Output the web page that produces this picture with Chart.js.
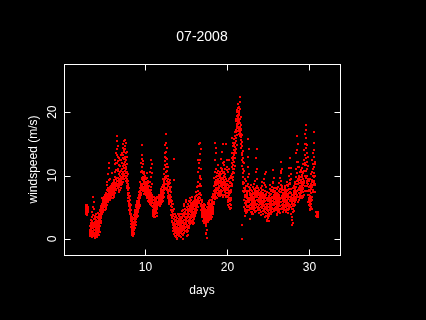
<!DOCTYPE html>
<html><head><meta charset="utf-8">
<script src="https://cdn.jsdelivr.net/npm/chart.js@4/dist/chart.umd.min.js"></script>
<style>html,body{margin:0;padding:0;background:#000;}canvas{display:block;}</style>
</head><body>
<canvas id="c" width="426" height="320"></canvas>
<script>
const chartTitle = "07-2008";
const xLabel = "days";
const yLabel = "windspeed (m/s)";
const xTicks = [10, 20, 30];
const yTicks = [0, 10, 20];
const xRange = [0.07, 33.73];
const yRange = [-2.52, 27.6];
const samplesPerDay = 72;     // 20-minute readings
const jul02Start = 51;        // first reading on day 2 is slot 51
const jul02 = [4.2,5.0,4.6,5.3,4.4,3.9,4.8,5.1,4.3,4.7,5.2,4.0,4.5,4.9,3.8,5.4,4.1,4.6,5.0,4.3,4.8];
const jul03 = [null,null,null,null,null,null,null,null,null,null,null,null,
 null,null,null,1.0,0.6,1.4,0.8,2.0,1.2,0.5,1.8,2.6,
 1.1,0.4,1.6,2.2,0.9,3.0,1.5,2.4,0.7,1.9,0.3,1.3,
 2.8,4.2,1.3,3.4,0.6,2.1,5.1,1.7,0.9,2.5,3.8,1.2,
 6.7,2.0,0.4,4.8,1.5,3.1,5.8,0.8,2.3,1.0,3.6,0.5,
 2.7,1.4,0.2,3.3,1.9,0.7,2.4,4.0,1.1,2.9,0.6,1.7];
const jul04 = [2.1,0.8,3.0,1.5,0.4,2.6,1.2,3.5,0.9,2.2,1.7,0.3,
 1.0,2.8,0.6,3.3,2.0,1.4,4.1,2.4,0.7,1.9,3.6,1.3,
 2.7,1.6,3.2,2.2,4.0,1.1,2.9,3.7,2.0,4.4,2.5,3.4,
 3.0,4.5,2.6,3.8,5.2,3.3,4.1,2.9,4.8,3.6,5.0,4.3,
 4.6,3.9,5.6,4.4,5.1,6.5,4.0,5.3,4.8,5.9,4.2,5.5,
 5.0,6.1,4.7,5.6,6.4,5.2,4.6,5.8,6.0,5.3,6.6,5.1];
const jul05 = [5.2,6.0,4.6,5.5,6.8,5.0,6.2,5.7,7.0,5.3,6.5,5.8,
 4.8,6.1,7.3,5.6,6.9,5.1,6.4,7.8,5.9,6.6,9.0,6.0,
 6.3,7.1,5.4,8.5,6.7,5.9,7.5,10.2,6.2,7.0,6.6,8.1,
 12.0,7.4,6.3,11.2,7.8,6.8,9.3,7.1,6.5,8.2,7.6,6.9,
 7.5,6.2,8.0,6.9,7.3,9.5,6.6,7.7,8.4,7.0,6.4,7.9,
 7.2,8.3,6.8,7.6,10.4,7.1,8.0,6.9,7.4,8.7,7.8,7.3];
const jul06 = [7.2,8.0,6.5,7.6,8.8,6.9,7.4,8.3,6.7,9.0,7.8,7.1,
 8.5,6.8,9.3,7.5,8.1,10.5,7.9,8.6,9.8,7.3,11.8,8.9,
 8.2,12.5,7.7,9.6,13.5,8.4,10.9,7.9,12.0,8.8,9.4,14.2,
 16.3,8.6,13.2,15.5,9.1,12.0,8.3,11.0,14.6,9.7,13.0,8.0,
 9.2,12.3,8.4,10.8,7.7,11.6,9.0,8.6,12.8,7.4,9.5,10.2,
 8.2,10.0,7.8,11.5,8.8,9.4,12.4,8.5,10.6,9.1,13.2,8.9];
const jul07 = [8.5,10.8,9.6,8.0,12.4,9.2,8.7,11.0,9.8,13.6,8.9,10.2,
 9.4,12.0,8.6,14.3,10.5,9.0,12.8,11.5,9.7,15.0,10.1,13.2,
 11.8,9.5,14.0,12.6,10.3,15.4,11.2,13.8,9.9,12.2,14.6,10.7,
 13.0,15.6,11.6,10.0,14.2,12.8,9.6,13.5,11.0,15.2,12.4,10.4,
 11.4,9.2,12.9,8.8,10.6,13.7,9.5,8.4,11.9,9.9,8.1,10.3,
 8.3,7.0,9.1,6.4,7.8,8.6,6.0,7.3,5.5,8.0,6.8,5.9];
const jul08 = [6.5,5.2,7.2,4.6,5.8,6.8,4.2,5.5,6.1,3.9,5.0,4.4,
 4.8,3.5,5.4,2.8,4.0,3.2,4.6,2.4,3.7,1.9,3.0,2.2,
 1.6,2.9,0.9,2.5,1.3,3.4,0.6,2.0,1.1,0.4,1.8,2.7,
 1.4,0.7,2.3,3.1,1.0,2.6,1.7,3.8,0.8,2.1,3.3,1.5,
 2.4,3.9,2.9,4.5,1.8,3.6,2.6,4.2,3.0,5.0,2.2,3.4,
 4.1,3.2,5.3,2.7,4.6,3.8,5.8,3.5,4.3,6.0,3.9,4.9];
const jul09 = [4.8,3.9,5.6,4.3,6.0,5.1,3.6,5.8,4.6,6.5,5.3,4.2,
 6.2,5.0,7.0,5.7,6.6,4.9,7.4,6.0,5.4,6.8,5.2,7.2,
 7.6,6.4,8.0,6.8,9.0,7.3,8.5,6.9,10.5,7.8,8.7,7.1,
 12.0,8.2,14.9,9.4,13.2,8.0,11.3,9.6,12.6,8.4,10.8,7.9,
 9.3,11.8,8.6,10.4,7.5,9.8,12.3,8.2,7.1,10.2,8.8,9.1,
 7.7,9.4,8.0,10.6,8.5,7.8,9.6,7.2,8.9,10.0,7.5,8.3];
const jul10 = [8.3,7.2,9.0,7.7,8.6,6.9,9.4,8.0,7.4,8.8,10.4,8.2,
 7.0,9.6,7.8,6.4,8.5,7.3,6.8,7.9,9.2,7.5,8.9,6.7,
 7.2,6.0,8.1,6.6,7.0,6.3,8.4,7.6,6.2,7.8,6.9,5.8,
 6.5,7.4,5.6,9.0,6.8,5.9,10.6,7.1,6.3,8.2,5.4,7.7,
 12.5,6.0,11.2,7.3,9.8,5.5,11.8,6.7,8.7,5.8,10.4,6.4,
 7.0,5.2,6.1,4.2,5.7,6.6,3.6,5.0,4.6,6.2,3.9,5.4];
const jul11 = [4.5,5.6,3.5,6.2,4.9,3.8,5.3,6.6,4.2,5.8,3.4,5.0,
 6.0,4.6,5.5,3.9,6.3,5.1,4.4,5.9,6.5,5.2,4.8,6.1,
 5.4,4.3,6.7,5.0,3.7,5.7,4.7,6.4,4.1,5.3,null,null,
 null,null,null,null,5.5,6.4,5.9,6.8,5.3,6.2,5.7,6.6,
 6.0,5.4,6.9,6.3,5.8,6.5,7.0,6.1,5.6,6.7,5.2,6.4,
 6.2,7.0,5.5,7.6,6.5,5.9,7.3,6.8,6.0,7.9,6.3,7.1];
const jul12 = [6.8,8.2,5.9,7.3,6.5,7.8,6.0,7.1,8.5,6.4,7.6,6.9,
 7.4,9.5,7.1,8.3,10.2,6.6,8.9,7.7,11.0,8.0,9.1,7.3,
 12.3,8.0,13.5,9.4,14.8,8.6,11.6,9.8,13.0,7.9,10.5,12.8,
 16.6,9.6,15.2,11.3,13.8,9.9,10.8,14.3,8.6,12.6,7.8,11.9,
 9.2,8.1,10.0,7.4,8.9,6.8,9.4,7.2,11.4,6.5,8.4,7.7,
 5.9,7.5,6.9,8.6,6.2,9.0,7.0,5.5,8.2,6.6,7.9,6.3];
const jul13 = [7.5,8.9,6.4,9.3,7.0,5.8,8.2,6.6,5.2,7.4,4.5,6.1,
 3.8,5.5,2.9,4.6,3.3,6.0,5.0,2.7,4.2,3.5,5.6,2.4,
 2.2,3.6,1.8,4.4,2.6,3.9,1.3,3.1,9.3,2.0,4.8,1.5,
 12.6,2.6,0.8,3.2,1.6,4.0,2.4,0.5,3.5,1.9,2.8,1.1,
 2.1,0.3,3.0,1.7,2.8,0.9,2.3,3.7,1.4,0.6,2.5,1.2,
 0.2,3.3,1.9,0.0,2.6,1.0,3.9,1.6,0.7,2.9,1.3,2.2];
const jul14 = [1.2,2.5,0.6,3.1,1.8,0.4,2.2,3.6,1.0,2.8,0.7,1.5,
 3.4,2.0,0.9,2.7,1.3,3.9,0.5,2.3,1.7,3.2,1.1,2.6,
 0.3,1.9,3.0,1.4,2.4,4.0,0.8,2.9,1.6,3.5,2.1,4.4,
 1.2,3.3,0.0,2.5,0.6,3.8,1.8,4.6,2.7,1.5,3.6,5.2,
 2.2,4.1,1.4,3.0,5.5,2.0,3.7,1.0,4.3,2.6,3.4,1.7,
 3.9,2.3,4.8,1.3,3.1,5.8,2.8,4.5,1.9,3.5,6.2,2.5];
const jul15 = [2.8,1.5,3.9,0.4,2.2,4.6,1.1,3.3,5.0,2.0,0.6,3.7,
 4.3,1.8,2.9,5.5,3.5,1.3,4.8,2.5,3.9,6.0,2.1,4.4,
 3.0,5.2,1.7,4.0,6.5,3.4,2.4,4.9,5.8,3.1,4.5,2.7,
 5.3,3.8,4.2,6.2,3.3,5.0,4.6,2.9,5.6,4.1,3.6,5.1,
 4.4,2.6,5.7,3.5,4.9,6.6,3.0,4.7,5.4,2.3,4.0,5.9,
 3.7,5.0,2.8,4.3,6.0,3.4,5.5,4.1,2.5,4.8,3.2,5.2];
const jul16 = [3.9,5.2,4.5,6.3,3.6,5.7,4.8,6.6,4.1,5.4,6.0,4.7,
 5.1,6.8,4.4,5.9,7.4,5.0,8.2,6.1,4.6,5.6,7.0,5.3,
 6.9,5.4,9.0,6.2,12.5,5.8,7.6,10.5,6.4,5.1,8.3,6.7,
 12.0,6.0,8.3,15.0,7.1,11.2,5.7,13.4,9.6,6.5,15.1,8.6,
 12.4,7.2,10.0,6.5,14.2,8.4,5.5,11.0,7.0,4.6,9.4,6.2,
 5.2,3.8,4.9,5.8,4.2,3.5,5.0,4.4,6.1,3.9,5.4,4.7];
const jul17 = [4.5,3.6,5.3,4.0,2.9,4.8,3.3,5.6,4.2,3.0,4.9,3.7,
 5.1,4.4,2.5,3.9,4.7,3.2,5.4,2.8,4.1,3.5,4.6,3.0,
 2.2,4.1,1.0,3.5,2.6,0.8,3.8,2.0,4.4,1.5,3.1,0.1,
 3.8,4.6,2.8,5.0,3.4,4.3,5.7,3.1,4.0,4.9,2.7,3.6,
 5.5,4.2,3.3,4.8,5.9,3.9,4.5,5.2,3.0,4.4,6.0,3.7,
 4.9,3.5,5.6,4.1,3.2,5.0,4.6,6.2,3.8,4.3,5.3,3.4];
const jul18 = [3.6,5.0,4.4,6.2,3.2,5.5,4.7,6.7,4.0,5.8,3.4,6.1,
 5.2,4.5,6.8,3.9,5.6,4.8,6.4,5.1,7.1,4.3,5.9,6.6,
 7.6,5.6,8.3,6.4,9.6,7.1,5.9,8.7,6.9,7.8,9.0,6.3,
 10.5,12.4,7.3,15.2,9.3,13.6,8.0,11.0,7.4,9.8,14.3,8.5,
 6.7,10.4,7.7,9.0,6.5,8.8,7.3,10.0,8.1,6.9,11.6,7.8,
 9.5,7.8,8.6,9.2,7.1,10.7,8.3,6.8,9.9,7.5,8.9,10.3];
const jul19 = [7.4,9.2,8.0,10.1,6.8,8.8,9.6,7.6,10.5,8.3,7.1,9.9,
 8.6,11.2,7.8,9.4,12.6,8.9,10.3,7.3,9.1,13.8,8.2,10.8,
 7.5,9.7,8.4,11.0,7.0,9.0,10.4,8.1,6.6,9.5,12.0,8.7,
 15.0,9.7,7.7,11.6,8.5,10.0,6.9,9.3,12.2,8.1,10.6,7.4,
 9.0,7.5,11.0,8.4,9.8,7.0,10.2,8.7,6.6,9.5,7.9,8.5,
 8.2,15.0,9.4,7.2,10.9,8.0,12.5,6.8,9.1,7.7,11.4,8.6];
const jul20 = [8.0,6.2,9.1,5.4,7.3,10.5,6.7,8.5,5.8,7.9,12.4,6.4,
 9.4,7.0,5.1,8.2,11.0,6.9,7.6,9.0,5.6,8.8,6.3,4.7,
 7.2,9.6,6.0,8.4,5.3,7.7,10.0,6.5,8.9,4.9,7.4,6.1,
 9.6,12.8,8.4,11.4,15.9,10.2,13.5,8.7,12.0,14.6,9.8,11.0,
 11.6,13.0,10.6,15.2,12.4,9.3,14.0,11.1,13.6,10.4,14.8,12.7,
 13.2,15.8,12.1,14.5,16.3,13.7,11.5,15.1,14.0,16.9,12.8,15.5];
const jul21 = [14.2,16.0,13.5,17.2,15.4,18.6,16.8,19.0,17.5,14.9,18.2,16.4,
 20.3,17.9,19.4,18.8,20.0,18.4,19.6,17.6,18.9,20.6,19.2,17.1,
 21.3,18.1,19.8,17.3,20.8,18.5,16.5,19.5,17.0,20.2,18.7,16.2,
 22.4,19.0,17.7,21.6,18.3,16.8,20.5,17.4,19.3,15.6,18.0,16.6,
 15.0,17.2,14.4,16.1,0.0,15.3,13.6,2.2,14.7,12.4,16.4,13.2,
 11.5,9.8,12.8,8.6,13.9,10.4,7.5,11.0,9.0,12.2,8.0,10.7];
const jul22 = [7.4,10.8,6.2,8.9,5.0,12.0,7.0,4.4,9.5,6.6,3.6,8.1,
 5.7,7.8,4.8,6.9,9.2,5.3,7.5,6.0,8.4,4.1,6.8,5.5,
 7.2,5.0,6.4,4.5,8.3,5.8,7.0,4.2,6.6,9.8,5.2,7.6,
 11.4,15.7,13.0,6.1,8.7,6.3,10.2,5.1,7.6,14.2,6.5,4.6,
 8.2,5.9,7.0,3.2,6.4,8.0,5.4,7.3,4.9,6.1,7.9,5.6,
 6.7,4.7,7.7,5.3,6.2,8.5,4.3,7.1,5.8,6.9,3.9,6.0];
const jul23 = [6.4,5.0,7.6,4.3,6.9,5.5,8.2,4.8,6.1,7.3,5.2,3.9,
 6.7,5.8,7.9,4.6,6.3,5.0,7.1,8.6,5.7,6.5,4.2,7.4,
 5.9,6.8,9.1,5.3,7.7,4.9,6.0,8.0,5.4,7.2,6.6,4.4,
 10.6,5.6,12.8,7.0,14.2,6.2,11.0,8.3,6.6,9.4,5.1,7.5,
 5.6,7.2,4.7,6.0,8.0,5.1,6.9,4.5,7.5,5.8,6.3,7.0,
 6.5,4.9,7.8,5.4,6.1,4.1,7.3,5.7,6.8,4.6,5.9,7.1];
const jul24 = [5.5,7.0,4.6,6.3,8.1,5.1,6.7,4.2,7.4,5.8,6.1,3.8,
 7.8,5.3,6.5,9.0,4.9,7.2,5.6,6.9,8.4,4.4,6.0,7.7,
 5.2,6.6,4.0,7.3,5.7,6.4,8.8,4.7,7.0,5.4,6.2,4.5,
 5.9,9.5,4.3,6.8,10.2,5.1,7.6,4.8,8.5,6.0,3.5,7.1,
 10.6,6.4,5.0,8.2,4.1,6.9,3.6,5.5,7.4,4.6,6.2,5.3,
 3.0,5.1,2.8,4.8,6.0,3.9,5.6,3.3,4.4,6.5,3.7,5.0];
const jul25 = [3.4,5.6,4.1,6.8,2.9,5.0,7.3,4.5,6.1,3.7,5.4,7.9,
 4.8,6.4,3.9,5.9,8.5,5.2,6.9,4.3,7.5,5.7,4.0,6.2,
 5.0,7.1,4.6,6.3,5.5,7.8,4.2,6.7,5.3,6.0,8.2,4.9,
 9.0,6.0,10.9,7.8,5.5,8.8,6.5,4.7,7.4,5.8,9.6,6.6,
 6.6,4.4,7.0,5.3,8.0,6.3,4.9,7.6,5.6,6.9,4.6,7.2,
 5.9,7.4,4.5,6.6,5.1,8.1,6.2,4.8,7.0,5.5,6.4,3.8];
const jul26 = [6.0,4.5,7.3,5.2,6.6,3.9,7.9,5.7,4.8,6.9,5.4,8.2,
 4.2,6.3,7.1,5.0,6.7,4.6,7.6,5.9,8.8,6.1,4.4,7.0,
 5.5,6.8,4.1,7.4,5.2,9.6,6.3,4.7,7.9,5.8,6.5,10.4,
 7.4,10.8,12.2,8.5,6.4,9.2,5.8,7.7,11.0,4.9,6.8,8.3,
 6.5,5.3,8.0,4.7,7.2,6.0,5.1,7.8,6.2,4.3,6.9,5.6,
 7.1,5.4,6.3,4.8,7.7,5.9,6.6,4.5,7.3,5.0,8.4,6.1];
const jul27 = [5.8,7.4,4.6,6.5,8.1,5.3,7.0,4.2,6.2,7.8,5.0,6.8,
 4.4,7.3,5.6,8.5,6.0,4.8,7.6,5.2,6.6,9.0,5.9,7.1,
 4.5,6.9,5.4,8.3,6.3,4.1,7.7,5.7,6.4,8.7,5.1,7.2,
 6.7,10.0,5.5,7.9,4.8,11.2,6.1,8.6,5.3,7.4,9.3,6.0,
 12.7,8.8,6.4,11.2,7.2,5.1,9.4,6.7,4.0,10.3,7.9,5.6,
 3.4,6.1,2.2,5.5,4.7,7.0,3.0,5.8,4.3,6.5,2.6,5.2];
const jul28 = [5.6,7.0,4.8,6.3,8.0,5.2,7.5,6.0,4.4,6.8,8.4,5.5,
 7.2,6.1,8.7,5.8,7.9,6.5,9.0,7.1,5.4,8.2,6.7,7.6,
 6.4,11.0,8.2,13.5,7.3,9.8,6.2,12.1,8.6,7.0,10.4,9.2,
 16.2,10.4,14.0,7.6,12.2,9.2,6.7,15.0,8.6,5.9,11.3,7.8,
 9.4,6.6,8.1,10.0,7.3,9.6,6.2,8.8,11.4,7.0,9.8,8.3,
 6.9,10.6,7.7,8.9,6.5,9.3,7.4,10.9,8.0,6.8,9.0,7.5];
const jul29 = [8.0,9.3,7.2,10.5,6.5,8.6,11.2,7.7,9.8,6.8,10.1,8.4,
 7.4,9.0,11.8,8.1,6.6,10.4,7.9,9.5,8.5,7.0,10.8,8.8,
 12.5,8.8,14.0,10.8,9.2,13.2,7.6,11.6,9.9,15.0,8.3,12.0,
 13.2,16.5,11.6,18.0,15.0,12.8,9.6,17.2,14.4,10.7,16.0,8.9,
 13.5,11.0,9.2,12.2,8.3,14.8,10.0,7.5,11.5,9.4,13.0,8.6,
 6.9,8.7,5.8,7.6,6.3,9.1,7.0,5.4,8.2,6.5,7.8,6.0];
const jul30 = [7.0,5.2,8.4,6.1,4.6,7.6,9.5,5.7,6.8,4.8,8.0,6.4,
 5.5,7.3,10.2,6.0,8.6,5.0,7.9,9.0,6.6,4.7,8.3,6.2,
 10.6,8.2,12.5,9.3,7.4,11.0,8.5,13.6,7.7,10.0,9.0,11.8,
 14.0,10.4,16.8,9.1,13.0,8.9,11.4,15.2,9.8,7.4,12.2,8.5,
 10.0,11.8,8.6,null,null,null,null,null,null,null,null,null,
 null,4.3,3.6,4.1,3.4,3.9,4.2,3.7,4.0,3.5,4.3,3.8];
const jul31 = [3.7,4.2,3.4,3.9,3.5,4.1,3.6];

const days = [2,3,4,5,6,7,8,9,10,11,12,13,14,15,16,17,18,19,20,21,22,23,24,25,26,27,28,29,30,31];
const dayValues = [jul02,jul03,jul04,jul05,jul06,jul07,jul08,jul09,jul10,jul11,jul12,jul13,jul14,jul15,jul16,jul17,jul18,jul19,jul20,jul21,jul22,jul23,jul24,jul25,jul26,jul27,jul28,jul29,jul30,jul31];

const points = [];
days.forEach((d, k) => {
  const start = d === 2 ? jul02Start : 0;
  dayValues[k].forEach((v, i) => {
    if (v !== null) points.push({x: d + (start + i) / samplesPerDay, y: v});
  });
});

// crisp 2x2 red marker
const dot = document.createElement('canvas');
dot.width = 2; dot.height = 2;
const dctx = dot.getContext('2d');
dctx.fillStyle = '#ff0000';
dctx.fillRect(0, 0, 2, 2);

const FONT = 'Liberation Sans';
const TICK_LEN = 6;

const framePlugin = {
  id: 'frame',
  beforeDatasetsDraw(chart) { chart.ctx.imageSmoothingEnabled = false; },
  afterDatasetsDraw(chart) {
    const {ctx, chartArea: a, scales: {x, y}} = chart;
    const L = Math.round(a.left), R = Math.round(a.right), T = Math.round(a.top), B = Math.round(a.bottom);
    ctx.save();
    ctx.strokeStyle = '#ffffff';
    ctx.lineWidth = 1;
    ctx.strokeRect(L + 0.5, T + 0.5, R - L, B - T);
    ctx.beginPath();
    x.ticks.forEach(t => {
      const px = Math.round(x.getPixelForValue(t.value)) + 0.5;
      ctx.moveTo(px, B + 0.5); ctx.lineTo(px, B + 0.5 - TICK_LEN);
      ctx.moveTo(px, T + 0.5); ctx.lineTo(px, T + 0.5 + TICK_LEN);
    });
    y.ticks.forEach(t => {
      const py = Math.round(y.getPixelForValue(t.value)) + 0.5;
      ctx.moveTo(L + 0.5, py); ctx.lineTo(L + 0.5 + TICK_LEN, py);
      ctx.moveTo(R + 0.5, py); ctx.lineTo(R + 0.5 - TICK_LEN, py);
    });
    ctx.stroke();
    ctx.restore();
  }
};

new Chart(document.getElementById('c').getContext('2d'), {
  type: 'scatter',
  data: { datasets: [{ data: points, xAxisID: 'x', yAxisID: 'y', pointStyle: dot, pointRadius: 1, pointHoverRadius: 1,
    backgroundColor: '#ff0000', borderColor: '#ff0000', borderWidth: 0 }] },
  options: {
    responsive: false, animation: false, devicePixelRatio: 1, events: [],
    layout: { padding: { left: 0, right: 86, top: 0, bottom: 0 } },
    plugins: { legend: { display: false }, tooltip: { enabled: false }, title: { display: false } },
    scales: {
      x: {
        type: 'linear', position: 'bottom', min: xRange[0], max: xRange[1],
        grid: { display: false, drawTicks: false }, border: { display: false },
        afterBuildTicks: s => { s.ticks = xTicks.map(v => ({ value: v })); },
        afterFit: s => { s.height = 65; },
        ticks: { color: '#ffffff', font: { family: FONT, size: 12 }, padding: 5.2,
          minRotation: 0, maxRotation: 0, autoSkip: false },
        title: { display: true, text: xLabel, color: '#ffffff', font: { family: FONT, size: 12, lineHeight: 1.2 },
          padding: { top: 0, bottom: 21.8 } }
      },
      xTop: {
        type: 'linear', position: 'top', min: xRange[0], max: xRange[1],
        grid: { display: false, drawTicks: false }, border: { display: false },
        ticks: { display: false },
        afterFit: s => { s.height = 64; },
        title: { display: true, text: chartTitle, color: '#ffffff',
          font: { family: FONT, size: 14, weight: 'normal', lineHeight: 1.2 },
          padding: { top: 28.4, bottom: 0 } }
      },
      y: {
        type: 'linear', position: 'left', min: yRange[0], max: yRange[1],
        grid: { display: false, drawTicks: false }, border: { display: false },
        afterBuildTicks: s => { s.ticks = yTicks.map(v => ({ value: v })); },
        afterFit: s => { s.width = 64; },
        ticks: { color: '#ffffff', font: { family: FONT, size: 12 }, padding: 4.4,
          minRotation: 90, maxRotation: 90, crossAlign: 'center', autoSkip: false },
        title: { display: true, text: yLabel, color: '#ffffff', font: { family: FONT, size: 12, lineHeight: 1.2 },
          padding: { top: 26.9, bottom: 0 } }
      }
    }
  },
  plugins: [framePlugin]
});
</script>
</body></html>
